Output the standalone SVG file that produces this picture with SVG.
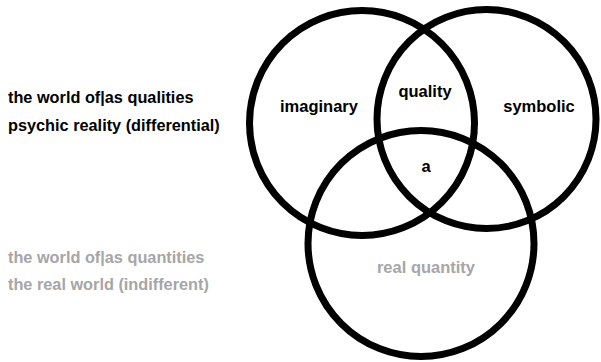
<svg xmlns="http://www.w3.org/2000/svg" width="601" height="362" viewBox="0 0 601 362">
<style>
.c{fill:none;stroke:#000;stroke-width:7}
.t{font-family:"Liberation Sans",Arial,sans-serif;font-weight:bold;font-size:16.5px;fill:#000}
.g{fill:#a6a6a6}
.l{font-size:16.3px}
</style>
<rect width="601" height="362" fill="#fff"/>
<g id="imaginary"><circle class="c" cx="362" cy="123" r="112.5"/><text class="t" x="319" y="112" text-anchor="middle">imaginary</text></g>
<g id="symbolic"><circle class="c" cx="486.5" cy="119" r="109.5"/><text class="t" x="539" y="112" text-anchor="middle">symbolic</text></g>
<g id="real"><circle class="c" cx="421" cy="243.5" r="113"/><text class="t g" x="426" y="273" text-anchor="middle">real quantity</text></g>
<g id="quality"><text class="t" x="425" y="97" text-anchor="middle">quality</text></g>
<g id="a"><text class="t" x="426" y="172" text-anchor="middle">a</text></g>
<g id="qualities"><text class="t l" x="8" y="103">the world of|as qualities</text><text class="t l" x="8" y="131">psychic reality (differential)</text></g>
<g id="quantities"><text class="t l g" x="8" y="263">the world of|as quantities</text><text class="t l g" x="8" y="290">the real world (indifferent)</text></g>
</svg>
